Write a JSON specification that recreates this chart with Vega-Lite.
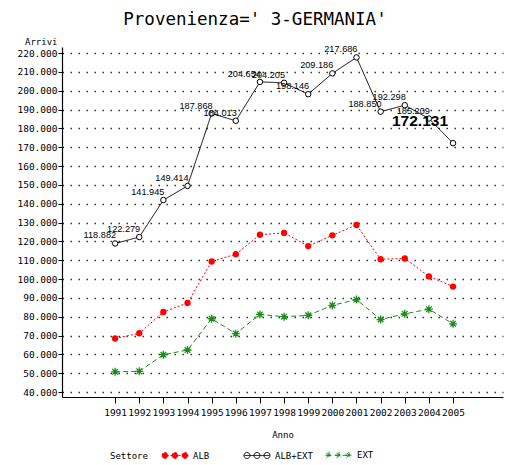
{
  "$schema": "https://vega.github.io/schema/vega-lite/v6.json",
  "width": 441,
  "height": 350,
  "autosize": {"type": "none"},
  "padding": {"left": 62, "top": 47, "right": 5, "bottom": 68},
  "background": "white",
  "title": {
    "text": "Provenienza=' 3-GERMANIA'",
    "font": "DejaVu Sans Mono",
    "fontSize": 17.5,
    "fontWeight": "normal",
    "color": "#000000",
    "anchor": "middle",
    "frame": "bounds",
    "offset": 9,
    "dx": -5
  },
  "data": {
    "values": [
      {"year": 1991, "series": "ALB", "value": 68400},
      {"year": 1992, "series": "ALB", "value": 71200},
      {"year": 1993, "series": "ALB", "value": 82500},
      {"year": 1994, "series": "ALB", "value": 87300},
      {"year": 1995, "series": "ALB", "value": 109300},
      {"year": 1996, "series": "ALB", "value": 113200},
      {"year": 1997, "series": "ALB", "value": 123500},
      {"year": 1998, "series": "ALB", "value": 124500},
      {"year": 1999, "series": "ALB", "value": 117500},
      {"year": 2000, "series": "ALB", "value": 123200},
      {"year": 2001, "series": "ALB", "value": 128700},
      {"year": 2002, "series": "ALB", "value": 110500},
      {"year": 2003, "series": "ALB", "value": 110900},
      {"year": 2004, "series": "ALB", "value": 101400},
      {"year": 2005, "series": "ALB", "value": 96000},
      {"year": 1991, "series": "ALB+EXT", "value": 118882},
      {"year": 1992, "series": "ALB+EXT", "value": 122279},
      {"year": 1993, "series": "ALB+EXT", "value": 141945},
      {"year": 1994, "series": "ALB+EXT", "value": 149414},
      {"year": 1995, "series": "ALB+EXT", "value": 187868},
      {"year": 1996, "series": "ALB+EXT", "value": 184013},
      {"year": 1997, "series": "ALB+EXT", "value": 204654},
      {"year": 1998, "series": "ALB+EXT", "value": 204205},
      {"year": 1999, "series": "ALB+EXT", "value": 198146},
      {"year": 2000, "series": "ALB+EXT", "value": 209186},
      {"year": 2001, "series": "ALB+EXT", "value": 217686},
      {"year": 2002, "series": "ALB+EXT", "value": 188850},
      {"year": 2003, "series": "ALB+EXT", "value": 192298},
      {"year": 2004, "series": "ALB+EXT", "value": 185209},
      {"year": 2005, "series": "ALB+EXT", "value": 172131},
      {"year": 1991, "series": "EXT", "value": 50700},
      {"year": 1992, "series": "EXT", "value": 51000},
      {"year": 1993, "series": "EXT", "value": 59800},
      {"year": 1994, "series": "EXT", "value": 62300},
      {"year": 1995, "series": "EXT", "value": 78900},
      {"year": 1996, "series": "EXT", "value": 71000},
      {"year": 1997, "series": "EXT", "value": 81200},
      {"year": 1998, "series": "EXT", "value": 80000},
      {"year": 1999, "series": "EXT", "value": 80700},
      {"year": 2000, "series": "EXT", "value": 86000},
      {"year": 2001, "series": "EXT", "value": 89100},
      {"year": 2002, "series": "EXT", "value": 78500},
      {"year": 2003, "series": "EXT", "value": 81500},
      {"year": 2004, "series": "EXT", "value": 84000},
      {"year": 2005, "series": "EXT", "value": 76200}
    ]
  },
  "encoding": {
    "x": {
      "field": "year",
      "type": "quantitative",
      "scale": {"domain": [1988.8, 2007.07], "nice": false, "zero": false},
      "axis": {
        "title": "Anno",
        "values": [1991, 1992, 1993, 1994, 1995, 1996, 1997, 1998, 1999, 2000, 2001, 2002, 2003, 2004, 2005],
        "format": "d",
        "grid": false,
        "tickSize": 6,
        "labelPadding": 4,
        "titlePadding": 14,
        "labelFlush": false,
        "labelOverlap": false
      }
    },
    "y": {
      "field": "value",
      "type": "quantitative",
      "scale": {"domain": [37350, 223200], "nice": false, "zero": false},
      "axis": {
        "title": "Arrivi",
        "values": [40000, 50000, 60000, 70000, 80000, 90000, 100000, 110000, 120000, 130000, 140000, 150000, 160000, 170000, 180000, 190000, 200000, 210000, 220000],
        "format": ",d",
        "grid": true,
        "gridDash": [1.5, 6.5],
        "gridColor": "#333333",
        "gridWidth": 1.3,
        "tickSize": 4,
        "labelPadding": 1,
        "titleAngle": 0,
        "titleAlign": "right",
        "titleBaseline": "bottom",
        "titleX": -5,
        "titleY": -1,
        "labelFlush": false,
        "labelOverlap": false
      }
    }
  },
  "layer": [
    {
      "mark": {"type": "line", "strokeWidth": 1},
      "encoding": {
        "color": {
          "field": "series",
          "type": "nominal",
          "scale": {"domain": ["ALB", "ALB+EXT", "EXT"], "range": ["#ff0000", "#000000", "#1a8c1a"]},
          "legend": {
            "title": "Settore",
            "orient": "none",
            "legendX": 48,
            "legendY": 395,
            "direction": "horizontal",
            "titleOrient": "left",
            "titleFont": "DejaVu Sans Mono",
            "titleFontSize": 9,
            "titleFontWeight": "normal",
            "titleColor": "#000000",
            "titlePadding": 14,
            "titleBaseline": "top",
            "labelFont": "DejaVu Sans Mono",
            "labelFontSize": 9,
            "labelColor": "#000000",
            "labelOffset": 5,
            "symbolSize": 625,
            "symbolStrokeWidth": 1,
            "columnPadding": 10,
            "gridAlign": "all",
            "padding": 0,
            "encode": {
              "title": {"update": {"dy": {"value": 1}}},
              "symbols": {
                "update": {
                  "shape": {"signal": "datum.value === 'EXT' ? 'M-1,0L1,0M-1.08,0L-0.52,0M-0.8,-0.28L-0.8,0.28M-1,-0.2L-0.6,0.2M-1,0.2L-0.6,-0.2M-0.28,0L0.28,0M0,-0.28L0,0.28M-0.2,-0.2L0.2,0.2M-0.2,0.2L0.2,-0.2M0.52,0L1.08,0M0.8,-0.28L0.8,0.28M0.6,-0.2L1,0.2M0.6,0.2L1,-0.2' : 'M-1,0L1,0M-1.04,0a0.24,0.24 0 1,0 0.48,0a0.24,0.24 0 1,0 -0.48,0M-0.24,0a0.24,0.24 0 1,0 0.48,0a0.24,0.24 0 1,0 -0.48,0M0.56,0a0.24,0.24 0 1,0 0.48,0a0.24,0.24 0 1,0 -0.48,0'"},
                  "fill": {"signal": "datum.value === 'ALB' ? '#ff0000' : 'transparent'"},
                  "stroke": {"signal": "scale('color', datum.value)"},
                  "strokeWidth": {"value": 1},
                  "opacity": {"value": 1}
                }
              }
            }
          }
        },
        "strokeDash": {
          "field": "series",
          "type": "nominal",
          "scale": {"domain": ["ALB", "ALB+EXT", "EXT"], "range": [[2, 2], [1, 0], [5, 3]]},
          "legend": null
        }
      }
    },
    {
      "data": {"values": [{"label": "frame"}]},
      "mark": {"type": "rule", "color": "#000000", "strokeWidth": 1.2},
      "encoding": {
        "x": {"datum": 1988.8},
        "x2": {"datum": 2007.07},
        "y": {"datum": 223200}
      }
    },
    {
      "transform": [{"filter": "datum.series === 'ALB'"}],
      "mark": {"type": "point", "shape": "circle", "filled": true, "color": "#ff0000", "size": 40, "opacity": 1}
    },
    {
      "transform": [{"filter": "datum.series === 'ALB+EXT'"}],
      "mark": {"type": "point", "shape": "circle", "filled": false, "fill": "#ffffff", "stroke": "#000000", "strokeWidth": 1, "size": 30, "opacity": 1}
    },
    {
      "transform": [{"filter": "datum.series === 'EXT'"}],
      "mark": {"type": "point", "shape": "M-1,0L1,0M0,-1L0,1M-0.7,-0.7L0.7,0.7M-0.7,0.7L0.7,-0.7", "filled": false, "stroke": "#1a8c1a", "strokeWidth": 1.3, "size": 64, "opacity": 1}
    },
    {
      "transform": [{"filter": "datum.series === 'ALB+EXT' && datum.year < 2005"}],
      "mark": {"type": "text", "align": "right", "baseline": "alphabetic", "dx": 1, "dy": -5, "font": "Liberation Sans", "fontSize": 9.2, "color": "#000000"},
      "encoding": {"text": {"field": "value", "type": "quantitative", "format": ",d"}}
    },
    {
      "transform": [{"filter": "datum.series === 'ALB+EXT' && datum.year === 2005"}],
      "mark": {"type": "text", "align": "right", "baseline": "alphabetic", "dx": -5, "dy": -17, "font": "Liberation Sans", "fontSize": 15.5, "fontWeight": "bold", "color": "#000000"},
      "encoding": {"text": {"field": "value", "type": "quantitative", "format": ",d"}}
    }
  ],
  "config": {
    "locale": {"number": {"decimal": ",", "thousands": ".", "grouping": [3], "currency": ["", " €"]}},
    "view": {"stroke": null},
    "axis": {
      "domainColor": "#000000",
      "domainWidth": 1.2,
      "tickColor": "#000000",
      "labelFont": "DejaVu Sans Mono",
      "labelFontSize": 9.5,
      "labelColor": "#000000",
      "titleFont": "DejaVu Sans Mono",
      "titleFontSize": 9,
      "titleFontWeight": "normal",
      "titleColor": "#000000"
    }
  }
}
